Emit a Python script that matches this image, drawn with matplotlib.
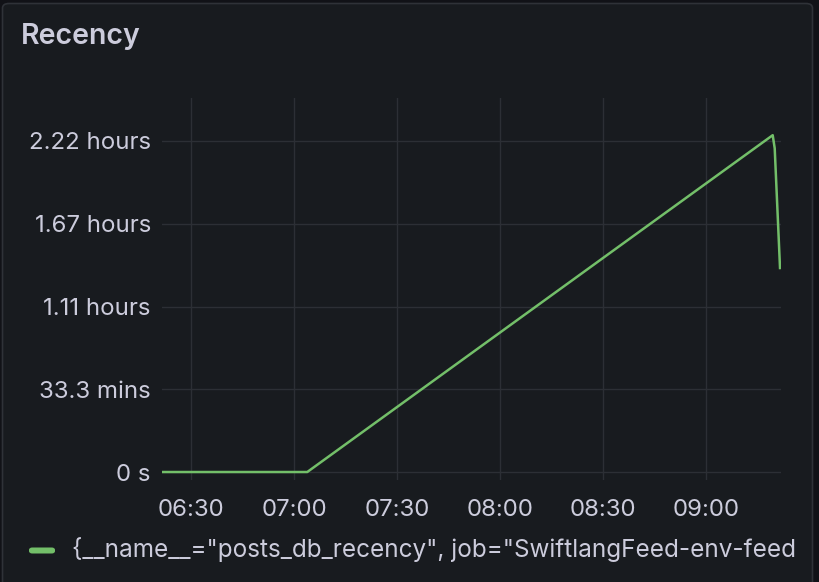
import pandas as pd
import matplotlib
matplotlib.use("Agg")
import matplotlib.pyplot as plt
import matplotlib.dates as mdates
from matplotlib.patches import FancyBboxPatch

# データ（秒）
times = ["06:21:30", "07:03:48", "09:19:20", "09:19:55", "09:21:28"]
recency_s = [0, 0, 8140, 7824, 4930]

y_ticks = [0, 2000, 4000, 6000, 8000]
y_labels = ["0 s", "33.3 mins", "1.11 hours", "1.67 hours", "2.22 hours"]
x_ticks = ["06:30", "07:00", "07:30", "08:00", "08:30", "09:00"]

title = "Recency"
legend_label = '{__name__="posts_db_recency", job="SwiftlangFeed-env-feed'

day = "2024-01-01 "
t = pd.to_datetime([day + s for s in times])
xt = pd.to_datetime([day + s for s in x_ticks])

# 色
bg_out = "#111217"
panel = "#181b1f"
border = "#2f3238"
text_col = "#ccccdc"
grid_col = "#2c2f35"
line_col = "#73bf69"

plt.rcParams["font.family"] = ["Inter", "DejaVu Sans"]

fig = plt.figure(figsize=(8.2, 5.82), dpi=100, facecolor=bg_out)

# パネル背景
fig.patches.append(FancyBboxPatch((2.5 / 820, -0.05), 810 / 820, 1.05 - 3.5 / 582,
                                  boxstyle="round,pad=0,rounding_size=0.008",
                                  transform=fig.transFigure, facecolor=panel,
                                  edgecolor=border, linewidth=1.2, zorder=-5))

fig.text(21 / 820, 1 - 36 / 582, title, color=text_col, fontsize=20.5,
         fontweight="semibold", va="center", ha="left")

ax = fig.add_axes([162 / 820, 1 - 480 / 582, 619 / 820, 382 / 582])
ax.set_zorder(1)
ax.set_facecolor("none")

ax.plot(t, recency_s, color=line_col, linewidth=1.8, solid_joinstyle="round")

ax.set_xlim(pd.Timestamp(day + "06:21:30"), pd.Timestamp(day + "09:21:45"))
ax.set_ylim(-193, 9039)

ax.set_yticks(y_ticks)
ax.set_yticklabels(y_labels)
ax.set_xticks(xt)
ax.xaxis.set_major_formatter(mdates.DateFormatter("%H:%M"))

# 補助線
for v in y_ticks:
    ax.axhline(v, color=grid_col, linewidth=1, zorder=0)
for v in xt:
    ax.axvline(v, color=grid_col, linewidth=1, zorder=0)

ax.tick_params(axis="both", length=0, colors=text_col, labelsize=17.3)
ax.tick_params(axis="y", pad=8)
ax.tick_params(axis="x", pad=14)
for s in ax.spines.values():
    s.set_visible(False)

# 凡例
fig.patches.append(FancyBboxPatch((29 / 820, 1 - 553.5 / 582), 26 / 820, 6 / 582,
                                  boxstyle="round,pad=0,rounding_size=0.004",
                                  transform=fig.transFigure, facecolor=line_col,
                                  edgecolor="none", zorder=2))
fig.text(72 / 820, 1 - 549 / 582, legend_label, color=text_col, fontsize=17.5,
         va="center", ha="left")

fig.savefig("out.png", dpi=100, facecolor=bg_out)
